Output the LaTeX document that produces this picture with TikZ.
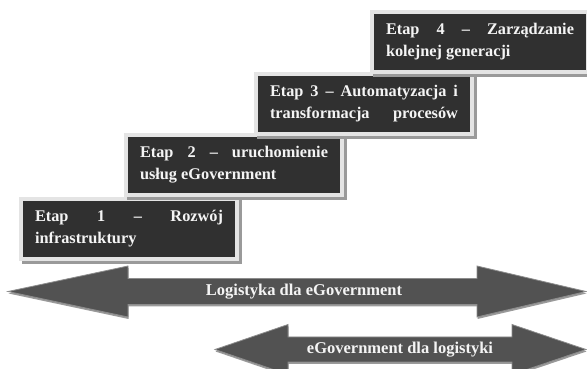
\documentclass[tikz,border=0pt]{standalone}
\usepackage{fontspec}
\setmainfont{Liberation Serif}
\usepackage{tikz}
\usetikzlibrary{calc}
\usetikzlibrary{shadows}
\definecolor{bx}{HTML}{303030}
\definecolor{rim}{HTML}{E4E4E4}
\definecolor{sh}{HTML}{9A9A9A}
\definecolor{ar}{HTML}{525252}
\definecolor{ae}{HTML}{8C8C8C}
\definecolor{tx}{HTML}{F4F4F4}

\begin{document}
\begin{tikzpicture}[x=1pt, y=1pt,
  etap/.style={anchor=north west, fill=bx, draw=rim, line width=4pt, text=tx,
    font=\fontsize{16.3}{22}\selectfont\bfseries,
    execute at begin node={\hyphenpenalty=10000\relax},
    text width=188pt, inner xsep=14pt, inner ysep=6pt, minimum height=60pt, align=justify,
    drop shadow={shadow xshift=3pt, shadow yshift=-3pt, opacity=1, fill=sh, draw=sh, line width=4pt}},
  strzalka/.style={fill=ar, draw=ae, line width=0.8pt,
    drop shadow={shadow xshift=0.5pt, shadow yshift=-2pt, opacity=1, fill=sh}},
  opis/.style={text=tx, font=\fontsize{16.5}{20}\selectfont\bfseries}]
  \useasboundingbox (0,0) rectangle (587,369);

  % schody
  \coordinate (s1) at (19,172);
  \coordinate (s2) at (124,236);
  \coordinate (s3) at (254,297);
  \coordinate (s4) at (370,359);
  \node[etap] (e1) at (s1) {Etap 1 – Rozwój\linebreak infrastruktury};
  \node[etap] (e2) at (s2) {Etap 2 – uruchomienie\linebreak usług eGovernment};
  \node[etap] (e3) at (s3) {Etap 3 – Automatyzacja i\linebreak transformacja\hfill procesów};
  \node[etap] (e4) at (s4) {Etap 4 – Zarządzanie\linebreak kolejnej generacji};

  % strzalki
  \coordinate (a) at (8,77.5);
  \draw[strzalka] (a) -- ++(120,25.5) -- ++(0,-12.5) -- ++(349,0) -- ++(0,12.5) -- ++(109,-25.5)
    -- ++(-109,-25.5) -- ++(0,12.5) -- ++(-349,0) -- ++(0,-12.5) -- cycle;
  \node[opis] (log) at ($(a)+(296,0)$) {Logistyka dla eGovernment};

  \coordinate (b) at (215,19.5);
  \draw[strzalka] (b) -- ++(73,25) -- ++(0,-12.5) -- ++(224,0) -- ++(0,12.5) -- ++(74,-25)
    -- ++(-74,-25) -- ++(0,12.5) -- ++(-224,0) -- ++(0,-12.5) -- cycle;
  \node[opis] (egov) at ($(b)+(185,0)$) {eGovernment dla logistyki};
\end{tikzpicture}
\end{document}
